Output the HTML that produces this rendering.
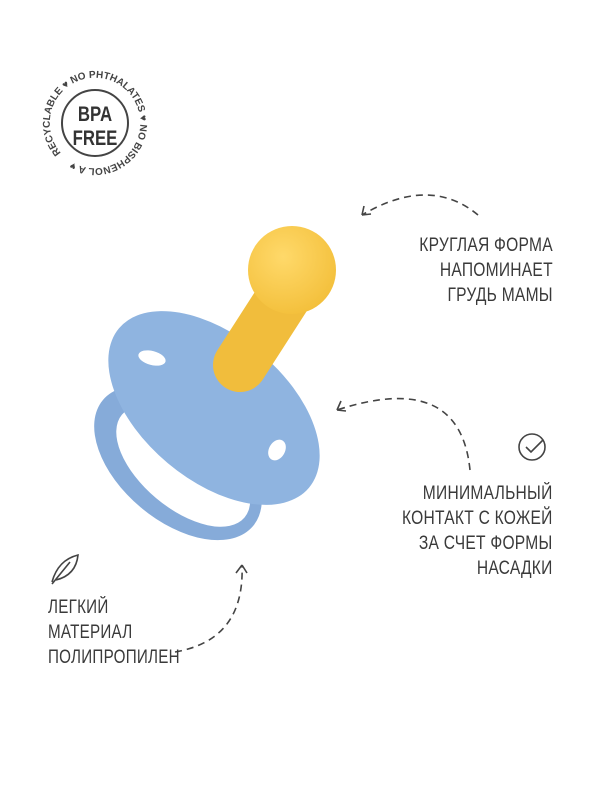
<!DOCTYPE html>
<html><head><meta charset="utf-8"><style>
html,body{margin:0;padding:0;background:#fff;}
.t{position:absolute;font-family:"Liberation Sans",sans-serif;font-size:19px;color:#3a3a3a;letter-spacing:0.3px;line-height:25px;white-space:nowrap;}
.r{transform:scaleX(0.82);transform-origin:right top;text-align:right;}
.l{transform:scaleX(0.8);transform-origin:left top;}
</style></head><body>
<div style="position:relative;width:600px;height:800px;overflow:hidden;">
<svg width="600" height="800" style="position:absolute;left:0;top:0">
<defs>
<path id="arc" d="M63,155 A45,45 0 1,1 127,91 A45,45 0 1,1 63,155"/>
<radialGradient id="ball" cx="0.4" cy="0.35" r="0.7"><stop offset="0" stop-color="#ffd96a"/><stop offset="1" stop-color="#f3bf3a"/></radialGradient>
</defs>
<!-- badge -->
<circle cx="95" cy="123" r="33" fill="none" stroke="#444" stroke-width="2"/>
<text font-family="Liberation Sans" font-size="10" font-weight="bold" fill="#444"><textPath href="#arc" startOffset="1%">RECYCLABLE ♥ NO PHTHALATES ♥ NO BISPHENOL A ♥</textPath></text>
<g transform="translate(95 0) scale(0.8 1)">
<text x="0" y="121" text-anchor="middle" font-family="Liberation Sans" font-size="21" font-weight="bold" fill="#333">BPA</text>
<text x="0" y="145" text-anchor="middle" font-family="Liberation Sans" font-size="21" font-weight="bold" fill="#333">FREE</text>
</g>
<!-- ring -->
<g transform="rotate(40 178 463)">
<ellipse cx="178" cy="463" rx="98" ry="58" fill="#86abd9"/>
<ellipse cx="184" cy="462" rx="80" ry="42" fill="#fff"/>
</g>
<!-- shield -->
<ellipse cx="214" cy="408" rx="124" ry="72" transform="rotate(40 214 408)" fill="#8fb4e0"/>
<ellipse cx="152" cy="358" rx="14" ry="7" transform="rotate(15 152 358)" fill="#fff"/>
<ellipse cx="277" cy="450" rx="8" ry="11" transform="rotate(30 277 450)" fill="#fff"/>
<!-- nipple -->
<line x1="240" y1="365" x2="285" y2="295" stroke="#f1bd3c" stroke-width="54" stroke-linecap="round"/>
<circle cx="292" cy="270" r="44" fill="url(#ball)"/>
<!-- arrows -->
<g fill="none" stroke="#444" stroke-width="1.6" stroke-dasharray="7 5">
<path d="M478,215 Q430,175 362,215"/>
<path d="M470,470 Q460,370 337,410"/>
<path d="M175,652 Q245,640 242,565"/>
</g>
<g fill="none" stroke="#444" stroke-width="1.6">
<path d="M362,215 l2,-9 M362,215 l9,-1"/>
<path d="M337,410 l4,-9 M337,410 l9,1"/>
<path d="M242,565 l-6,8 M242,565 l5,8"/>
<circle cx="532" cy="447" r="13"/>
<path d="M526,447 l5,5 l12,-12"/>
<path d="M52,582 Q58,560 78,555 Q76,575 56,580 M52,584 L70,562"/>
</g>
</svg>
<div class="t r" style="right:47px;top:233px;">КРУГЛАЯ ФОРМА<br>НАПОМИНАЕТ<br>ГРУДЬ МАМЫ</div>
<div class="t r" style="right:47px;top:481px;">МИНИМАЛЬНЫЙ<br>КОНТАКТ С КОЖЕЙ<br>ЗА СЧЕТ ФОРМЫ<br>НАСАДКИ</div>
<div class="t l" style="left:48px;top:595px">ЛЕГКИЙ<br>МАТЕРИАЛ<br>ПОЛИПРОПИЛЕН</div>
</div>
</body></html>
